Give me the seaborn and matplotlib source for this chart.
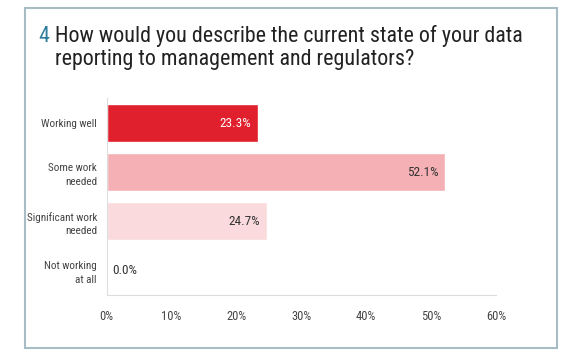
import matplotlib
matplotlib.use("Agg")
import matplotlib.pyplot as plt
import seaborn as sns
import pandas as pd
from matplotlib.patches import Rectangle
from matplotlib.ticker import FuncFormatter

categories = ["Working well", "Some work\nneeded", "Significant work\nneeded", "Not working\nat all"]
values = [23.3, 52.1, 24.7, 0.0]
bar_colors = ["#E0202C", "#F4B0B4", "#FADADC", "#FADADC"]
label_colors = ["white", "#333333", "#333333", "#333333"]
x_ticks = [0, 10, 20, 30, 40, 50, 60]

sns.set_style("white")
plt.rcParams["font.family"] = ["Roboto Condensed", "Liberation Sans Narrow", "Liberation Sans", "DejaVu Sans"]

df = pd.DataFrame({"category": categories, "value": values})

fig = plt.figure(figsize=(5.8, 3.58), dpi=100)
ax = fig.add_axes([0.184, 0.176, 0.671, 0.549])

sns.barplot(data=df, x="value", y="category", hue="category", palette=bar_colors,
            legend=False, width=0.77, ax=ax, saturation=1)

for i, (v, c) in enumerate(zip(values, label_colors)):
    if v > 5:
        ax.text(v - 1.0, i, f"{v:.1f}%", ha="right", va="center", fontsize=9.5, color=c)
    else:
        ax.text(v + 0.8, i, f"{v:.1f}%", ha="left", va="center", fontsize=9.5, color=c)

ax.set_xlim(0, 60)
ax.set_xticks(x_ticks)
ax.xaxis.set_major_formatter(FuncFormatter(lambda x, pos: f"{int(x)}%"))
ax.set_xlabel("")
ax.set_ylabel("")
ax.tick_params(axis="x", labelsize=9, colors="#444444", length=3, width=0.6, color="#cccccc", pad=8)
ax.tick_params(axis="y", labelsize=8, colors="#444444", length=0, pad=7)
for lbl in ax.get_yticklabels():
    lbl.set_multialignment("right")
    lbl.set_linespacing(1.45)
sns.despine(ax=ax, top=True, right=True)
ax.spines["left"].set_color("#dddddd")
ax.spines["bottom"].set_color("#dddddd")
ax.spines["left"].set_linewidth(0.8)
ax.spines["bottom"].set_linewidth(0.8)

# frame around the panel
fig.patches.append(Rectangle((25 / 580, 1 - 348 / 358), 532 / 580, 340 / 358,
                             transform=fig.transFigure, fill=False,
                             edgecolor="#A8BCC6", linewidth=1.5))

fig.text(38 / 580, 1 - 36 / 358, "4", fontsize=15.8, color="#2E7D9A", va="center")
fig.text(55 / 580, 1 - 36 / 358, "How would you describe the current state of your data",
         fontsize=15.8, color="#222222", va="center")
fig.text(55 / 580, 1 - 60 / 358, "reporting to management and regulators?",
         fontsize=15.8, color="#222222", va="center")

fig.savefig("out.png", dpi=100)
